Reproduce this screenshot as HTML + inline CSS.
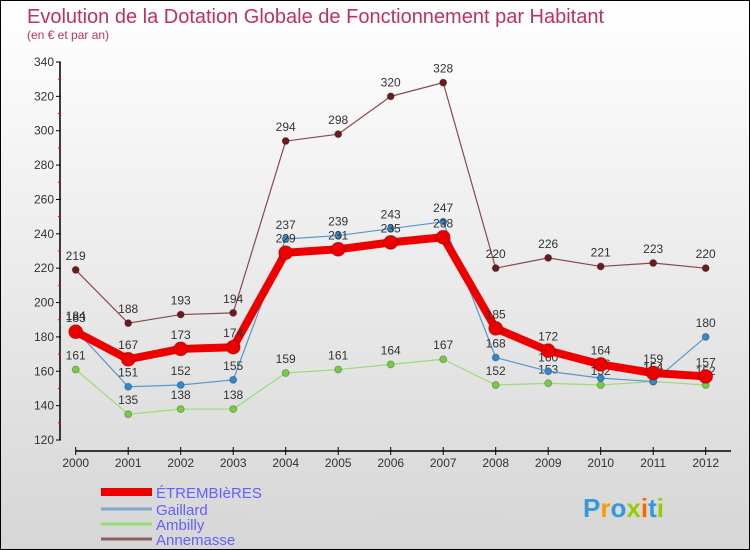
<!DOCTYPE html>
<html><head><meta charset="utf-8"><style>
html,body{margin:0;padding:0}
body{width:750px;height:550px;overflow:hidden;font-family:"Liberation Sans",sans-serif}
#wrap{position:relative;width:748px;height:548px;border:1px solid #000;background:linear-gradient(#ffffff,#d6d6d6)}
</style></head><body>
<div id="wrap">
<svg id="chart" width="748" height="548" style="position:absolute;left:0;top:0"></svg>
</div>
<script>
const years=["2000","2001","2002","2003","2004","2005","2006","2007","2008","2009","2010","2011","2012"];
const etrembieres=[183,167,173,174,229,231,235,238,185,172,164,159,157];
const gaillard=[184,151,152,155,237,239,243,247,168,160,156,154,180];
const ambilly=[161,135,138,138,159,161,164,167,152,153,152,154,152];
const annemasse=[219,188,193,194,294,298,320,328,220,226,221,223,220];
const yTicks=[120,140,160,180,200,220,240,260,280,300,320,340];
const seriesNames=["ÉTREMBIèRES","Gaillard","Ambilly","Annemasse"];

const NS="http://www.w3.org/2000/svg";
const svg=document.getElementById('chart');
function xS(i){return 74.7+i*52.5;}
function yS(v){return 439-(v-120)*(378/220);}
function mk(t,a,p){const e=document.createElementNS(NS,t);for(const k in a)e.setAttribute(k,a[k]);(p||svg).appendChild(e);return e;}

let t=mk('text',{x:26,y:22,'font-size':20,fill:'#c0305a'});t.textContent="Evolution de la Dotation Globale de Fonctionnement par Habitant";

t=mk('text',{x:26,y:38,'font-size':12,fill:'#c0305a'});t.textContent="(en € et par an)";


// y axis
let ax=mk('line',{x1:59,y1:yS(340),x2:59,y2:yS(120),stroke:'#000','stroke-width':1.5});

yTicks.forEach(v=>{
  mk('line',{x1:55,y1:yS(v),x2:60,y2:yS(v),stroke:'#000'});
  const l=mk('text',{x:53,y:yS(v)+4,'font-size':12,fill:'#333','text-anchor':'end'});l.textContent=v;
  
  if(v<340) mk('line',{x1:57,y1:yS(v+10),x2:60,y2:yS(v+10),stroke:'#e00'});
});
// x axis
ax=mk('line',{x1:xS(0),y1:450,x2:730,y2:450,stroke:'#000','stroke-width':1.5});

years.forEach((y,i)=>{
  mk('line',{x1:xS(i),y1:446,x2:xS(i),y2:454,stroke:'#000'});
  const l=mk('text',{x:xS(i),y:466,'font-size':12,fill:'#333','text-anchor':'middle'});l.textContent=y;
  
});

function series(data,color,w,r,mcolor,name){
  const g=mk('g',{});
  
  mk('polyline',{points:data.map((v,i)=>xS(i)+','+yS(v)).join(' '),fill:'none',stroke:color,'stroke-width':w,'stroke-linejoin':'round'},g);
  data.forEach((v,i)=>{
    const c=mk('circle',{cx:xS(i),cy:yS(v),r:r,fill:mcolor,stroke:'rgba(0,0,0,0.25)'},g);
    
    const l=mk('text',{x:xS(i),y:yS(v)-10,'font-size':12,fill:'#333','text-anchor':'middle'},g);l.textContent=v;
    
  });
}
series(annemasse,'#8a4a4a',1.2,3.5,'#6a1a20','annemasse');
series(ambilly,'#99dd77',1.2,3.5,'#77cc44','ambilly');
series(gaillard,'#5599cc',1.2,3.5,'#3388cc','gaillard');
series(etrembieres,'#ee0000',8,7,'#ee0000','etrembieres');

// legend
const lc=['#ee0000','#7fa8cc','#99dd77','#8a6060'],lw=[8,3,3,3],ly=[491,508,523,538];
seriesNames.forEach((n,i)=>{
  const g=mk('g',{});
  mk('line',{x1:100,y1:ly[i],x2:151,y2:ly[i],stroke:lc[i],'stroke-width':lw[i]},g);
  const l=mk('text',{x:155,y:ly[i]+6,'font-size':15,fill:'#6060ff'},g);l.textContent=n;
});
// logo
const lg=mk('text',{x:582,y:516,'font-size':26,'font-weight':'bold','font-family':'Liberation Sans, sans-serif'});

[['P','#3399dd'],['r','#ff9900'],['o','#3399dd'],['x','#99cc00'],['i','#ff6600'],['t','#3399dd'],['i','#99cc00']].forEach(([c,f])=>{const s=mk('tspan',{fill:f},lg);s.textContent=c;});
</script>
</body></html>
